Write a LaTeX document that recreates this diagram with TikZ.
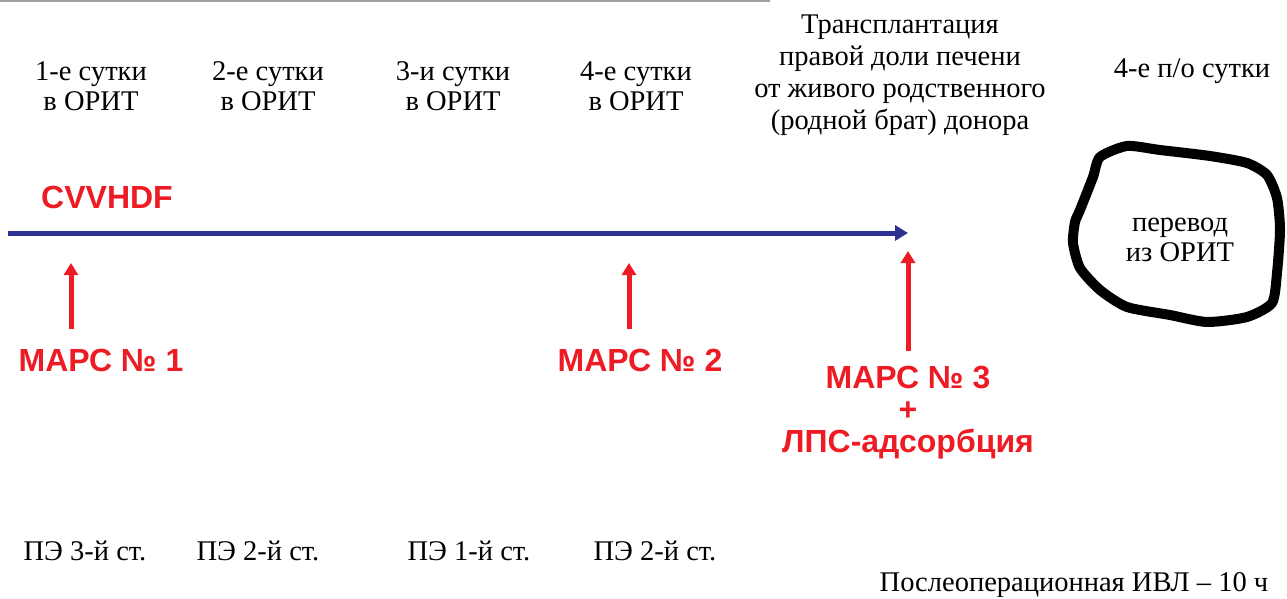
\documentclass[tikz,border=0pt]{standalone}
\usepackage{fontspec}
\setmainfont{Liberation Serif}
\newfontfamily\redfont{Liberation Sans}
\usetikzlibrary{arrows.meta}
\definecolor{navy}{RGB}{46,49,146}
\definecolor{mred}{RGB}{237,28,36}
\definecolor{gline}{RGB}{160,160,160}
\tikzset{
  lbl/.style={font=\fontsize{28.5}{30}\selectfont, align=center, inner sep=0pt, text=black},
  redlbl/.style={font=\redfont\bfseries\fontsize{32}{33}\selectfont, align=center, inner sep=0pt, text=mred},
  redarrow/.style={draw=mred, line width=5pt, -{Triangle[width=14pt,length=12pt]}},
  bluearrow/.style={draw=navy, line width=5pt, -{Triangle[width=15pt,length=13pt]}},
}
\begin{document}
\begin{tikzpicture}[x=1pt,y=-1pt]
\useasboundingbox (0,0) rectangle (1287,599);
\draw[gline, line width=2pt] (0,1) -- (770,1);

\node[lbl] (d1) at (91,86) {1-е сутки\\в ОРИТ};
\node[lbl] (d2) at (268,86) {2-е сутки\\в ОРИТ};
\node[lbl] (d3) at (453,86) {3-и сутки\\в ОРИТ};
\node[lbl] (d4) at (636,86) {4-е сутки\\в ОРИТ};
\node[lbl, font=\fontsize{28.5}{32}\selectfont] (tx) at (900,75) {Трансплантация\\правой доли печени\\от живого родственного\\(родной брат) донора};
\node[lbl] (d5) at (1192,71) {4-е п/о сутки};

\node[redlbl] (cv) at (107,197) {CVVHDF};
\coordinate (bl0) at (8,233);
\coordinate (bl1) at (908,233);
\draw[bluearrow] (bl0) -- (bl1);

\coordinate (a1s) at (71,329);
\coordinate (a1e) at (71,263);
\coordinate (a2s) at (629,329);
\coordinate (a2e) at (629,263);
\coordinate (a3s) at (908,351);
\coordinate (a3e) at (908,251);
\draw[redarrow] (a1s) -- (a1e);
\draw[redarrow] (a2s) -- (a2e);
\draw[redarrow] (a3s) -- (a3e);

\node[redlbl] (m1) at (101,360) {МАРС № 1};
\node[redlbl] (m2) at (640,360) {МАРС № 2};
\node[redlbl, font=\redfont\bfseries\fontsize{32}{32}\selectfont] (m3) at (908,413) {МАРС № 3\\+\\ЛПС-адсорбция};

\draw[black, line width=10pt, line join=round, line cap=round]
  plot[smooth cycle, tension=0.4] coordinates {
  (1127,146) (1160,150) (1210,156) (1247,163) (1267,175) (1277,198)
  (1280,230) (1277,273) (1272,303) (1247,317) (1207,322) (1170,315)
  (1127,307) (1100,290) (1080,268) (1073,243) (1075,222) (1080,210)
  (1093,177) (1100,157)};
\node[lbl] (tr) at (1180,240) {перевод\\из ОРИТ};

\node[lbl] (p1) at (85,551) {ПЭ 3-й ст.};
\node[lbl] (p2) at (258,551) {ПЭ 2-й ст.};
\node[lbl] (p3) at (469,551) {ПЭ 1-й ст.};
\node[lbl] (p4) at (655,551) {ПЭ 2-й ст.};
\node[lbl] (iv) at (1074,585) {Послеоперационная ИВЛ – 10 ч};
\end{tikzpicture}
\end{document}
